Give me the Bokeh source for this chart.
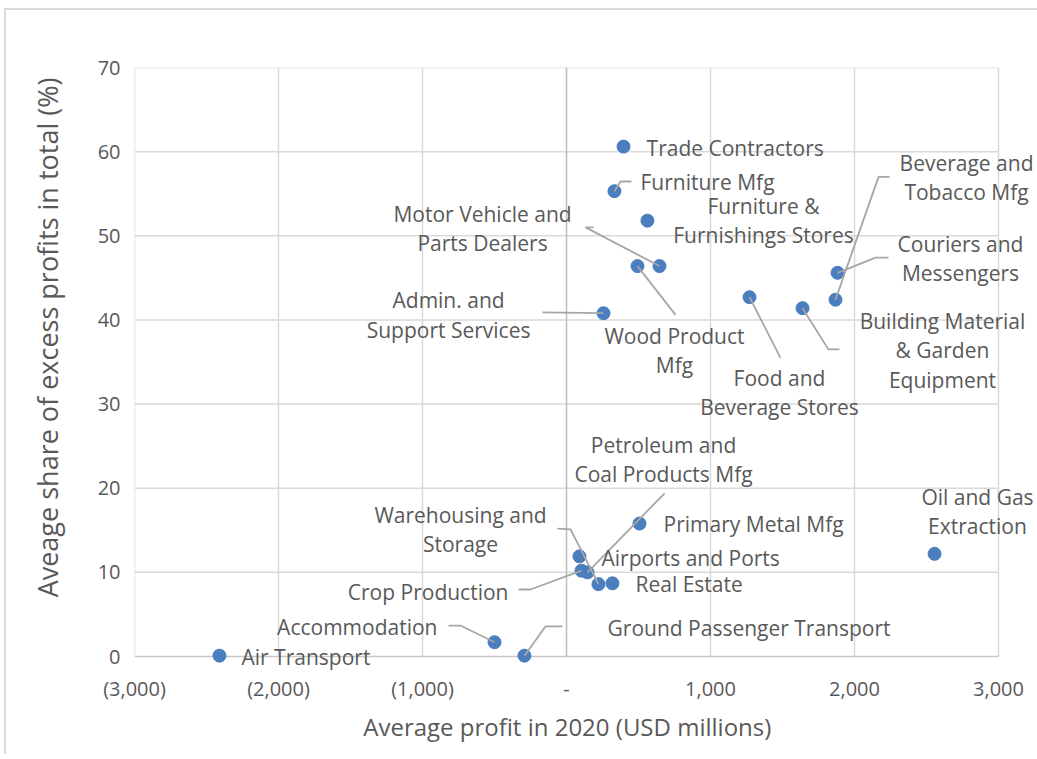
from bokeh.plotting import figure
from bokeh.models import Label, FixedTicker, CustomJSTickFormatter, ColumnDataSource
from bokeh.embed import file_html
from bokeh.resources import INLINE

# ---- data ----
industries = [
    "Trade Contractors", "Furniture Mfg", "Furniture & Furnishings Stores",
    "Motor Vehicle and Parts Dealers", "Wood Product Mfg", "Admin. and Support Services",
    "Food and Beverage Stores", "Building Material & Garden Equipment",
    "Couriers and Messengers", "Beverage and Tobacco Mfg", "Oil and Gas Extraction",
    "Primary Metal Mfg", "Airports and Ports", "Crop Production",
    "Petroleum and Coal Products Mfg", "Warehousing and Storage", "Real Estate",
    "Accommodation", "Ground Passenger Transport", "Air Transport",
]
avg_profit = [396, 333, 562, 646, 493, 257, 1271, 1639, 1882, 1868, 2556,
              507, 90, 104, 146, 222, 319, -500, -292, -2410]
excess_share = [60.6, 55.3, 51.8, 46.4, 46.4, 40.8, 42.7, 41.4, 45.6, 42.4, 12.2,
                15.8, 11.9, 10.2, 10.0, 8.6, 8.7, 1.7, 0.1, 0.1]

x_ticks = [-3000, -2000, -1000, 0, 1000, 2000, 3000]
y_ticks = [0, 10, 20, 30, 40, 50, 60, 70]
x_min, x_max = -3000, 3000
y_min, y_max = 0, 70

x_title = "Average profit in 2020 (USD millions)"
y_title = "Aveage share of excess profits in total (%)"

# ---- label layout (text, x, y, align) and leader bends (data units) ----
label_layout = {
    "Trade Contractors": ("Trade Contractors", 556, 60.4, "left", []),
    "Furniture Mfg": ("Furniture Mfg", 514, 56.45, "left", [(375, 56.45), (451, 56.45)]),
    "Furniture & Furnishings Stores": ("Furniture &\nFurnishings Stores", 1368, 51.8, "center", []),
    "Motor Vehicle and Parts Dealers": ("Motor Vehicle and\nParts Dealers", -583, 50.9, "center",
                                        [(132, 51.0), (187, 51.0)]),
    "Wood Product Mfg": ("Wood Product\nMfg", 750, 36.4, "center", [(757, 40.6)]),
    "Admin. and Support Services": ("Admin. and\nSupport Services", -819, 40.6, "center", [(-167, 40.9)]),
    "Food and Beverage Stores": ("Food and\nBeverage Stores", 1479, 31.4, "center", [(1486, 35.5)]),
    "Building Material & Garden Equipment": ("Building Material\n& Garden\nEquipment", 2611, 36.4, "center",
                                             [(1819, 36.5), (1896, 36.5)]),
    "Couriers and Messengers": ("Couriers and\nMessengers", 2736, 47.3, "center",
                                [(2146, 47.4), (2236, 47.4)]),
    "Beverage and Tobacco Mfg": ("Beverage and\nTobacco Mfg", 2778, 56.9, "center",
                                 [(2167, 57.0), (2243, 57.0)]),
    "Oil and Gas Extraction": ("Oil and Gas\nExtraction", 2854, 17.2, "center", []),
    "Primary Metal Mfg": ("Primary Metal Mfg", 674, 15.7, "left", []),
    "Airports and Ports": ("Airports and Ports", 243, 11.65, "left", []),
    "Crop Production": ("Crop Production", -403, 7.7, "right", [(-250, 7.96), (-333, 7.96)]),
    "Petroleum and Coal Products Mfg": ("Petroleum and\nCoal Products Mfg", 674, 23.4, "center", [(681, 19.4)]),
    "Warehousing and Storage": ("Warehousing and\nStorage", -736, 15.1, "center", [(28, 15.1), (-63, 15.2)]),
    "Real Estate": ("Real Estate", 479, 8.56, "left", []),
    "Accommodation": ("Accommodation", -896, 3.45, "right", [(-736, 3.68), (-819, 3.68)]),
    "Ground Passenger Transport": ("Ground Passenger Transport", 285, 3.33, "left", [(-146, 3.57), (-28, 3.57)]),
    "Air Transport": ("Air Transport", -2257, -0.1, "left", []),
}

TEXT = "#595959"
FONT = "Open Sans"
GRID = "#d9d9d9"
NBSP = "\u00a0"

# plot area geometry: the data area is 864 x 589 px; the frame is extended to the
# right and below so that labels outside the data area are not clipped
DATA_W, DATA_H = 864, 589
PAD_R, PAD_B = 39, 14
FRAME_W, FRAME_H = DATA_W + PAD_R, DATA_H + PAD_B
x_end = x_max + PAD_R * (x_max - x_min) / DATA_W
y_start = y_min - PAD_B * (y_max - y_min) / DATA_H

p = figure(
    frame_width=FRAME_W, frame_height=FRAME_H,
    x_range=(x_min, x_end), y_range=(y_start, y_max),
    min_border_left=128, min_border_right=0, min_border_top=57, min_border_bottom=84,
    output_backend="svg", toolbar_location=None,
)
p.styles = {"border-left": "2px solid #d9d9d9", "border-top": "2px solid #d9d9d9",
            "margin-left": "4px", "margin-top": "8px"}
p.outline_line_color = None
p.background_fill_color = "white"
p.border_fill_color = "white"
p.grid.visible = False

p.xaxis.ticker = FixedTicker(ticks=x_ticks)
p.yaxis.ticker = FixedTicker(ticks=y_ticks)
p.xaxis.bounds = (x_min, x_max)
p.yaxis.bounds = (y_min, y_max)
p.xaxis.formatter = CustomJSTickFormatter(code="""
if (tick < 0) { return '(' + Math.abs(tick).toLocaleString('en-US') + ')'; }
if (tick == 0) { return '-'; }
return tick.toLocaleString('en-US');
""")

for ax in (p.xaxis, p.yaxis):
    ax.axis_line_color = None
    ax.major_tick_line_color = None
    ax.minor_tick_line_color = None
    ax.major_label_text_color = TEXT
    ax.major_label_text_font = FONT
    ax.major_label_text_font_size = "20px"
    ax.axis_label_text_color = TEXT
    ax.axis_label_text_font = FONT
    ax.axis_label_text_font_style = "normal"

# axis titles are centred on the (extended) frame; non-breaking-space padding
# moves them back to the centre of the data area, as in the reference
p.yaxis.major_label_standoff = 8
p.yaxis.axis_label = NBSP * 9 + y_title
p.yaxis.axis_label_text_font_size = "27px"
p.yaxis.axis_label_standoff = 29
p.xaxis.major_label_standoff = -2
p.xaxis.axis_label = x_title + NBSP * 6
p.xaxis.axis_label_text_font_size = "24px"
p.xaxis.axis_label_standoff = 5

# gridlines limited to the data area
vx = [t for t in x_ticks if t != 0]
p.segment(x0=vx, y0=[y_min] * len(vx), x1=vx, y1=[y_max] * len(vx),
          line_color=GRID, line_width=1.5)
hy = [t for t in y_ticks if t != 0]
p.segment(x0=[x_min] * len(hy), y0=hy, x1=[x_max] * len(hy), y1=hy,
          line_color=GRID, line_width=1.5)
# axis lines (value axis crosses at x = 0)
p.segment(x0=[0], y0=[y_min], x1=[0], y1=[y_max], line_color="#bcbcbc", line_width=1.5)
p.segment(x0=[x_min], y0=[0], x1=[x_max], y1=[0], line_color="#c8c8c8", line_width=1.5)

src = ColumnDataSource(dict(x=avg_profit, y=excess_share, name=industries))
p.scatter("x", "y", source=src, size=13, color="#4A7EBF", line_color="#4A7EBF")

# leader lines from each point through its bends
xs, ys = [], []
for nm, px, py in zip(industries, avg_profit, excess_share):
    bends = label_layout[nm][4]
    if bends:
        xs.append([px] + [b[0] for b in bends])
        ys.append([py] + [b[1] for b in bends])
p.multi_line(xs, ys, line_color="#a6a6a6", line_width=1.8)

for nm in industries:
    txt, lx, ly, align, _ = label_layout[nm]
    p.add_layout(Label(x=lx, y=ly, text=txt, text_align=align, text_baseline="middle",
                       text_font=FONT, text_font_size="21px", text_color=TEXT,
                       text_line_height=1.05))

open("out.html", "w").write(file_html(p, INLINE))
